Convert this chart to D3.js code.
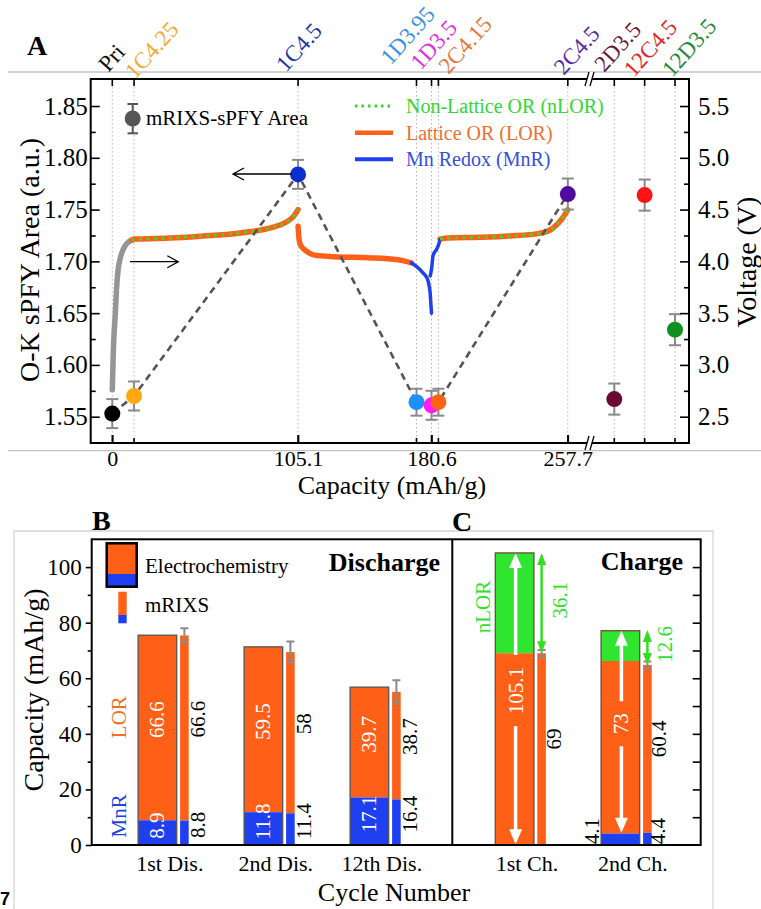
<!DOCTYPE html>
<html lang="en">
<head>
<meta charset="UTF-8">
<title>O-K sPFY area and capacity decomposition</title>
<script src="https://d3js.org/d3.v7.min.js"></script>
<style>
  body { margin: 0; background: #fff; }
  svg { display: block; font-family: "Liberation Serif", "Times New Roman", serif; }
</style>
</head>
<body>
<svg width="761" height="909"></svg>
<script>
// ---------- data: panel A ----------
const sampleNames    = ["Pri", "1C4.25", "1C4.5", "1D3.95", "1D3.5", "2C4.15", "2C4.5", "2D3.5", "12C4.5", "12D3.5"];
const sampleCapacity = [0, 12.3, 105.1, 172.1, 180.6, 184.5, 257.7, null, null, null];
const sampleArea     = [1.553, 1.570, 1.784, 1.564, 1.561, 1.564, 1.765, 1.567, 1.764, 1.634];
const sampleAreaErr  = [0.014, 0.014, 0.014, 0.013, 0.014, 0.013, 0.015, 0.015, 0.015, 0.015];
const capTickLabels  = [0, 105.1, 180.6, 257.7];

// voltage profiles, [capacity mAh/g, voltage V]
const charge1Start = [[0, 2.76], [0.3, 2.95], [0.56, 3.12], [1.0, 3.3], [1.53, 3.44], [2.49, 3.76], [3.3, 3.92],
  [4.35, 4.02], [5.8, 4.1], [7.2, 4.15], [9, 4.185], [11, 4.205]];
const charge1OR = [[11, 4.205], [12.8, 4.215], [20, 4.218], [32.6, 4.225], [51.4, 4.245], [70.3, 4.27],
  [79.7, 4.29], [91, 4.33], [98.5, 4.38], [102.3, 4.43], [105.1, 4.5]];
const discharge1LOR = [[105.1, 4.34], [105.5, 4.24], [106.0, 4.18], [107.2, 4.14], [108.9, 4.11], [111.5, 4.08],
  [114.5, 4.06], [125.8, 4.045], [144.6, 4.035], [161.6, 4.015], [166, 4.0], [169.2, 3.985]];
const discharge1MnR = [[169.2, 3.985], [171, 3.965], [173.5, 3.93], [175.7, 3.89], [177.5, 3.855], [178.5, 3.82],
  [179.3, 3.76], [179.8, 3.7], [180.2, 3.6], [180.6, 3.5]];
const charge2MnR = [[179.9, 3.86], [180.8, 3.95], [181.4, 4.05], [182.4, 4.09], [183.6, 4.12], [184.6, 4.16], [185.4, 4.21]];
const charge2OR = [[185.4, 4.215], [190, 4.225], [207.7, 4.232], [225, 4.245], [241.6, 4.27], [249.2, 4.32],
  [254.8, 4.42], [257.7, 4.5]];

// ---------- data: panels B and C ----------
const dischargeCats = ["1st Dis.", "2nd Dis.", "12th Dis."];
const disEchemMnR = [8.9, 11.8, 17.1];
const disEchemLOR = [66.6, 59.5, 39.7];
const disRixsMnR  = [8.8, 11.4, 16.4];
const disRixsLOR  = [66.6, 58, 38.7];
const disRixsErr  = [2.6, 3.8, 4.2];

const chargeCats = ["1st Ch.", "2nd Ch."];
const chEchemMnR  = [0, 4.1];
const chEchemLOR  = [69, 62.1];
const chEchemNLOR = [36.1, 10.9];
const chEchemOR   = [105.1, 73];
const chRixsMnR   = [0, 4.4];
const chRixsLOR   = [69, 60.4];
const chRixsNLOR  = [36.1, 12.6];
const chRixsErr   = [1.2, 1.2];

// ---------- colours ----------
const pointColor = ["#000000", "#ffa812", "#0c2fcc", "#1e90ff", "#ff1cff", "#ff6414", "#4f0aa0", "#6b0a30", "#ff1414", "#10901e"];
const labelColor = ["#111111", "#efaa35", "#2335a5", "#3b8fe0", "#e02ee0", "#e2783a", "#5a2aa0", "#6a1a40", "#e32626", "#26883a"];
const cOrange = "#ff6018", cBlue = "#1f40f0", cGreen = "#2fe52f", cGray = "#959595";

const svg = d3.select("svg");

function vtext(g, x, y, str, color, size, weight) {
  return g.append("text")
    .attr("transform", `translate(${x},${y}) rotate(-90)`)
    .attr("text-anchor", "middle")
    .attr("dominant-baseline", "central")
    .attr("fill", color)
    .attr("font-size", size)
    .attr("font-weight", weight || "normal")
    .text(str);
}

function styleAxis(g, size) {
  g.attr("font-family", null).attr("font-size", size);
  g.select(".domain").remove();
  g.selectAll(".tick line").attr("stroke", "#000").attr("stroke-width", 1.6);
  g.selectAll(".tick text").attr("fill", "#000");
}

// vertical arrow from y1 to y2 with filled head(s)
function vArrow(g, x, y1, y2, color, lw, hw, hl, both) {
  const dir = y2 > y1 ? 1 : -1;
  g.append("line").attr("x1", x).attr("x2", x)
    .attr("y1", both ? y1 + dir * hl * 0.8 : y1).attr("y2", y2 - dir * hl * 0.8)
    .attr("stroke", color).attr("stroke-width", lw);
  const head = (yt, d) => g.append("path")
    .attr("d", `M${x},${yt} L${x - hw / 2},${yt - d * hl} L${x + hw / 2},${yt - d * hl} Z`)
    .attr("fill", color);
  head(y2, dir);
  if (both) head(y1, -dir);
}

// ================= Panel A =================
const A = {left: 90.7, right: 689, top: 79, bottom: 443, brk: 589};
const xCap = d3.scaleLinear().domain([-12.22, 269.7]).range([A.left, A.brk]);
const xPost = d3.scalePoint().domain(["2D3.5", "12C4.5", "12D3.5"]).range([614.3, 675]);
const yArea = d3.scaleLinear().domain([1.5246, 1.8761]).range([A.bottom, A.top]);
const yVolt = d3.scaleLinear().domain([2.246, 5.761]).range([A.bottom, A.top]);
const posX = i => sampleCapacity[i] !== null ? xCap(sampleCapacity[i]) : xPost(sampleNames[i]);

// light rules framing the panel
[72, 450.7].forEach(y => svg.append("line").attr("x1", 8).attr("x2", 761).attr("y1", y).attr("y2", y)
  .attr("stroke", "#c4c4c4").attr("stroke-width", 1.3));

svg.append("text").attr("x", 27).attr("y", 55).attr("font-size", 28).attr("font-weight", "bold").text("A");

const gA = svg.append("g");

// dotted guides at each sample
gA.selectAll(".guide").data(sampleNames).join("line")
  .attr("x1", (d, i) => posX(i)).attr("x2", (d, i) => posX(i))
  .attr("y1", A.top).attr("y2", A.bottom)
  .attr("stroke", "#b8b8b8").attr("stroke-width", 1).attr("stroke-dasharray", "1.5,2.5");

// top sample labels
const labelShift = [[-4, 73], [1, 80], [-12, 73], [-26, 66], [-11, 71], [10, 75], [-4, 76], [-10, 73], [-11, 78], [-3, 78]];
svg.selectAll(".toplab").data(sampleNames).join("text")
  .attr("transform", (d, i) => `translate(${posX(i) + labelShift[i][0]},${labelShift[i][1]}) rotate(-48)`)
  .attr("font-size", 23).attr("fill", (d, i) => labelColor[i]).text(d => d);

// voltage profiles
const vLine = d3.line().x(d => xCap(d[0])).y(d => yVolt(d[1])).curve(d3.curveMonotoneX);
gA.append("path").attr("d", vLine(charge1Start)).attr("fill", "none").attr("stroke", cGray).attr("stroke-width", 5.5).attr("stroke-linecap", "round");
[charge1OR, charge2OR, discharge1LOR].forEach(c =>
  gA.append("path").attr("d", vLine(c)).attr("fill", "none").attr("stroke", cOrange).attr("stroke-width", 5.5).attr("stroke-linecap", "round"));
[discharge1MnR, charge2MnR].forEach(c =>
  gA.append("path").attr("d", vLine(c)).attr("fill", "none").attr("stroke", cBlue).attr("stroke-width", 3.5).attr("stroke-linecap", "round"));
[charge1OR, charge2OR].forEach(c =>
  gA.append("path").attr("d", vLine(c)).attr("fill", "none").attr("stroke", "#4fd02a").attr("stroke-width", 3).attr("stroke-dasharray", "3,4.5"));

// dashed connector through the first cycles
const linked = d3.range(0, 7);
gA.append("path")
  .attr("d", d3.line().x(i => posX(i)).y(i => yArea(sampleArea[i]))(linked))
  .attr("fill", "none").attr("stroke", "#555").attr("stroke-width", 2.6).attr("stroke-dasharray", "7,5");

// error bars then points
const eb = gA.selectAll(".eb").data(sampleNames).join("g").attr("stroke", "#8a8a8a").attr("stroke-width", 2);
eb.append("line").attr("x1", (d, i) => posX(i)).attr("x2", (d, i) => posX(i))
  .attr("y1", (d, i) => yArea(sampleArea[i] - sampleAreaErr[i])).attr("y2", (d, i) => yArea(sampleArea[i] + sampleAreaErr[i]));
[-1, 1].forEach(s => eb.append("line")
  .attr("x1", (d, i) => posX(i) - 6).attr("x2", (d, i) => posX(i) + 6)
  .attr("y1", (d, i) => yArea(sampleArea[i] + s * sampleAreaErr[i])).attr("y2", (d, i) => yArea(sampleArea[i] + s * sampleAreaErr[i])));
gA.selectAll(".pt").data(sampleNames).join("circle")
  .attr("cx", (d, i) => posX(i)).attr("cy", (d, i) => yArea(sampleArea[i]))
  .attr("r", 8).attr("fill", (d, i) => pointColor[i]);

// frame
gA.append("rect").attr("x", A.left).attr("y", A.top).attr("width", A.right - A.left).attr("height", A.bottom - A.top)
  .attr("fill", "none").attr("stroke", "#000").attr("stroke-width", 2);

// axes
const aL = gA.append("g").attr("transform", `translate(${A.left},0)`)
  .call(d3.axisLeft(yArea).tickValues(d3.range(1.55, 1.851, 0.05)).tickFormat(d3.format(".2f")).tickSize(-9).tickPadding(3));
styleAxis(aL, 25);
const aLm = gA.append("g").attr("transform", `translate(${A.left},0)`)
  .call(d3.axisLeft(yArea).tickValues(d3.range(1.575, 1.83, 0.05)).tickFormat("").tickSize(-5));
styleAxis(aLm, 10);
const aR = gA.append("g").attr("transform", `translate(${A.right},0)`)
  .call(d3.axisRight(yVolt).tickValues(d3.range(2.5, 5.51, 0.5)).tickFormat(d3.format(".1f")).tickSize(-9).tickPadding(9));
styleAxis(aR, 25);
const aRm = gA.append("g").attr("transform", `translate(${A.right},0)`)
  .call(d3.axisRight(yVolt).tickValues(d3.range(2.75, 5.3, 0.5)).tickFormat("").tickSize(-5));
styleAxis(aRm, 10);
const aB = gA.append("g").attr("transform", `translate(0,${A.bottom})`)
  .call(d3.axisBottom(xCap).tickValues(capTickLabels).tickFormat(d => d).tickSize(-8).tickPadding(7));
styleAxis(aB, 22);
// sample ticks on bottom and top edges
gA.selectAll(".tb").data(sampleNames).join("line")
  .attr("x1", (d, i) => posX(i)).attr("x2", (d, i) => posX(i))
  .attr("y1", A.bottom).attr("y2", (d, i) => A.bottom - (capTickLabels.includes(sampleCapacity[i]) ? 8 : 5))
  .attr("stroke", "#000").attr("stroke-width", 1.6);
gA.selectAll(".tt").data(sampleNames).join("line")
  .attr("x1", (d, i) => posX(i)).attr("x2", (d, i) => posX(i))
  .attr("y1", A.top).attr("y2", A.top + 7)
  .attr("stroke", "#000").attr("stroke-width", 1.6);

// axis break marks
[A.bottom, A.top].forEach(y => {
  const x = A.brk;
  gA.append("path").attr("d", `M${x - 4},${y + 7} L${x},${y - 7} L${x + 5},${y - 7} L${x + 1},${y + 7} Z`).attr("fill", "#fff");
  [[-4, 0], [1, 5]].forEach(o => gA.append("line")
    .attr("x1", x + o[0]).attr("y1", y + 7).attr("x2", x + o[1]).attr("y2", y - 7)
    .attr("stroke", "#000").attr("stroke-width", 1.3));
});

// axis titles
svg.append("text").attr("x", 392).attr("y", 494).attr("text-anchor", "middle").attr("font-size", 26).text("Capacity (mAh/g)");
svg.append("text").attr("transform", "translate(39,260) rotate(-90)").attr("text-anchor", "middle").attr("font-size", 28).text("O-K sPFY Area (a.u.)");
svg.append("text").attr("transform", "translate(756,262) rotate(-90)").attr("text-anchor", "middle").attr("font-size", 28).text("Voltage (V)");

// direction arrows
function hArrow(x1, x2, y) {
  const d = x2 > x1 ? 1 : -1;
  gA.append("path").attr("d", `M${x1},${y} L${x2},${y} M${x2 - d * 11},${y - 6} L${x2},${y} L${x2 - d * 11},${y + 6}`)
    .attr("fill", "none").attr("stroke", "#000").attr("stroke-width", 1.3);
}
hArrow(291.7, 233, 174);
hArrow(130, 178.3, 261.7);

// legends
const lg1 = gA.append("g").attr("stroke", "#555").attr("stroke-width", 2);
lg1.append("line").attr("x1", 132.7).attr("x2", 132.7).attr("y1", 104).attr("y2", 133.3);
lg1.append("line").attr("x1", 127.5).attr("x2", 138).attr("y1", 104).attr("y2", 104);
lg1.append("line").attr("x1", 127.5).attr("x2", 138).attr("y1", 133.3).attr("y2", 133.3);
gA.append("circle").attr("cx", 132.7).attr("cy", 118.5).attr("r", 8).attr("fill", "#555");
gA.append("text").attr("x", 146).attr("y", 125).attr("font-size", 21).text("mRIXS-sPFY Area");

const legendItems = [
  {text: "Non-Lattice OR (nLOR)", color: "#33d633", y: 106, dash: "2.5,4", w: 3},
  {text: "Lattice OR (LOR)", color: "#ee7030", y: 132.7, dash: null, w: 4.5},
  {text: "Mn Redox (MnR)", color: "#3450dc", y: 159.3, dash: null, w: 4}
];
const lineColor = ["#33d633", cOrange, cBlue];
legendItems.forEach((d, i) => {
  gA.append("line").attr("x1", 355).attr("x2", 393).attr("y1", d.y).attr("y2", d.y)
    .attr("stroke", lineColor[i]).attr("stroke-width", d.w).attr("stroke-dasharray", d.dash);
  gA.append("text").attr("x", 406).attr("y", d.y + 6.8).attr("font-size", 20).attr("fill", d.color).text(d.text);
});

// ================= Panels B and C =================
const P = {left: 91.7, mid: 452.3, right: 700.7, top: 539.3, bottom: 845};
const yCap = d3.scaleLinear().domain([0, 110]).range([P.bottom, P.top]);
const xDis = d3.scalePoint().domain(dischargeCats).range([163.3, 375.3]);
const xCh = d3.scalePoint().domain(chargeCats).range([520.5, 626.3]);
const wideL = -25.2, wideW = 38.6, narL = 16.8, narW = 8.6;

// light box around lower panels
svg.append("path").attr("d", "M14,909 L14,531 L713,531 L713,909").attr("fill", "none").attr("stroke", "#d4d4d4").attr("stroke-width", 1.3);
svg.append("text").attr("x", 92).attr("y", 529.5).attr("font-size", 28).attr("font-weight", "bold").text("B");
svg.append("text").attr("x", 452).attr("y", 530.7).attr("font-size", 28).attr("font-weight", "bold").text("C");

const gB = svg.append("g");

// discharge bars
dischargeCats.forEach((cat, i) => {
  const c = xDis(cat);
  const eTop = disEchemMnR[i] + disEchemLOR[i];
  const rTop = disRixsMnR[i] + disRixsLOR[i];
  // electrochemistry
  gB.append("rect").attr("x", c + wideL).attr("width", wideW).attr("y", yCap(eTop)).attr("height", yCap(disEchemMnR[i]) - yCap(eTop)).attr("fill", cOrange);
  gB.append("rect").attr("x", c + wideL).attr("width", wideW).attr("y", yCap(disEchemMnR[i])).attr("height", yCap(0) - yCap(disEchemMnR[i])).attr("fill", cBlue);
  gB.append("rect").attr("x", c + wideL).attr("width", wideW).attr("y", yCap(eTop)).attr("height", yCap(0) - yCap(eTop))
    .attr("fill", "none").attr("stroke", "#555").attr("stroke-width", 1.3);
  // mRIXS
  gB.append("rect").attr("x", c + narL).attr("width", narW).attr("y", yCap(rTop)).attr("height", yCap(disRixsMnR[i]) - yCap(rTop)).attr("fill", cOrange);
  gB.append("rect").attr("x", c + narL).attr("width", narW).attr("y", yCap(disRixsMnR[i])).attr("height", yCap(0) - yCap(disRixsMnR[i])).attr("fill", cBlue);
  const nc = c + narL + narW / 2;
  gB.append("path").attr("d", `M${nc - 4},${yCap(rTop + disRixsErr[i])} h8 M${nc},${yCap(rTop + disRixsErr[i])} V${yCap(rTop - disRixsErr[i])} M${nc - 4},${yCap(rTop - disRixsErr[i])} h8`)
    .attr("stroke", "#8a8a8a").attr("stroke-width", 2).attr("fill", "none");
  // values
  const wc = c + wideL + wideW / 2;
  vtext(gB, wc, (yCap(disEchemMnR[i]) + yCap(eTop)) / 2 - 8, disEchemLOR[i], "#fff", 21);
  vtext(gB, wc, (yCap(0) + yCap(disEchemMnR[i])) / 2 - 7, disEchemMnR[i], "#fff", 21);
  vtext(gB, nc + 13.3, (yCap(disRixsMnR[i]) + yCap(rTop)) / 2 - 9, disRixsLOR[i], "#000", 21);
  vtext(gB, nc + 13.3, (yCap(0) + yCap(disRixsMnR[i])) / 2 - 8, disRixsMnR[i], "#000", 21);
});

// charge bars
chargeCats.forEach((cat, i) => {
  const c = xCh(cat);
  const eLOR = chEchemMnR[i] + chEchemLOR[i];
  const eTop = eLOR + chEchemNLOR[i];
  const rLOR = chRixsMnR[i] + chRixsLOR[i];
  const rTop = rLOR + chRixsNLOR[i];
  const x0 = c + wideL;
  gB.append("rect").attr("x", x0).attr("width", wideW).attr("y", yCap(eTop)).attr("height", yCap(eLOR) - yCap(eTop)).attr("fill", cGreen);
  gB.append("rect").attr("x", x0).attr("width", wideW).attr("y", yCap(eLOR)).attr("height", yCap(chEchemMnR[i]) - yCap(eLOR)).attr("fill", cOrange);
  gB.append("rect").attr("x", x0).attr("width", wideW).attr("y", yCap(chEchemMnR[i])).attr("height", yCap(0) - yCap(chEchemMnR[i])).attr("fill", cBlue);
  gB.append("rect").attr("x", x0).attr("width", wideW).attr("y", yCap(eTop)).attr("height", yCap(0) - yCap(eTop))
    .attr("fill", "none").attr("stroke", "#6e4a3a").attr("stroke-width", 1.3);
  gB.append("rect").attr("x", c + narL).attr("width", narW).attr("y", yCap(rLOR)).attr("height", yCap(chRixsMnR[i]) - yCap(rLOR)).attr("fill", cOrange);
  gB.append("rect").attr("x", c + narL).attr("width", narW).attr("y", yCap(chRixsMnR[i])).attr("height", yCap(0) - yCap(chRixsMnR[i])).attr("fill", cBlue);
  const nc = c + narL + narW / 2;
  gB.append("path").attr("d", `M${nc - 4},${yCap(rLOR + chRixsErr[i])} h8 M${nc},${yCap(rLOR + chRixsErr[i])} V${yCap(rLOR - chRixsErr[i])} M${nc - 4},${yCap(rLOR - chRixsErr[i])} h8`)
    .attr("stroke", "#8a8a8a").attr("stroke-width", 2).attr("fill", "none");

  // white double arrow for the oxygen-redox capacity
  const wc = x0 + wideW / 2 + 1;
  const yLo = yCap(chEchemMnR[i] + 0.3), yHi = yCap(eTop);
  const lc = (yLo + yHi) / 2 - 8;
  const lab = vtext(gB, wc, lc, chEchemOR[i], "#fff", 21);
  const half = lab.node().getComputedTextLength() / 2 + 12;
  vArrow(gB, wc, lc - half, yHi, "#fff", 3.5, 13, 15, false);
  vArrow(gB, wc, lc + half, yLo, "#fff", 3.5, 13, 15, false);

  // green arrow for nLOR on mRIXS bar
  vArrow(gB, nc, yCap(rLOR), yCap(rTop), "#33dd22", 2.5, 9, 12, true);
  vtext(gB, nc + 18, (yCap(rLOR) + yCap(rTop)) / 2 - 3, chRixsNLOR[i], "#2ee02e", 21);
  vtext(gB, nc + 12, (yCap(chRixsMnR[i]) + yCap(rLOR)) / 2 - 10, chRixsLOR[i], "#000", 21);
  if (chRixsMnR[i] > 0) {
    vtext(gB, nc + 11, yCap(0) - 14, chRixsMnR[i], "#000", 21);
    vtext(gB, x0 - 9.3, yCap(0) - 14, chEchemMnR[i], "#000", 21);
  }
});

// frame and divider
gB.append("rect").attr("x", P.left).attr("y", P.top).attr("width", P.right - P.left).attr("height", P.bottom - P.top)
  .attr("fill", "none").attr("stroke", "#000").attr("stroke-width", 2);
gB.append("line").attr("x1", P.mid).attr("x2", P.mid).attr("y1", P.top).attr("y2", P.bottom).attr("stroke", "#000").attr("stroke-width", 2);

// axes
const bL = gB.append("g").attr("transform", `translate(${P.left},0)`)
  .call(d3.axisLeft(yCap).tickValues(d3.range(0, 101, 20)).tickSize(6).tickPadding(4));
styleAxis(bL, 23);
const bLm = gB.append("g").attr("transform", `translate(${P.left},0)`)
  .call(d3.axisLeft(yCap).tickValues(d3.range(10, 100, 20)).tickFormat("").tickSize(4));
styleAxis(bLm, 10);
const cR = gB.append("g").attr("transform", `translate(${P.right},0)`)
  .call(d3.axisRight(yCap).tickValues(d3.range(10, 101, 10)).tickFormat("").tickSize(-8));
styleAxis(cR, 10);

// category labels
dischargeCats.forEach(cat => gB.append("text").attr("x", xDis(cat) + 6.5).attr("y", 871).attr("text-anchor", "middle").attr("font-size", 22).text(cat));
chargeCats.forEach(cat => gB.append("text").attr("x", xCh(cat) + 6.5).attr("y", 871).attr("text-anchor", "middle").attr("font-size", 22).text(cat));

// titles
gB.append("text").attr("x", 394).attr("y", 901).attr("text-anchor", "middle").attr("font-size", 26).text("Cycle Number");
gB.append("text").attr("transform", "translate(43,690) rotate(-90)").attr("text-anchor", "middle").attr("font-size", 28).text("Capacity (mAh/g)");
gB.append("text").attr("x", 440).attr("y", 570.7).attr("text-anchor", "end").attr("font-size", 26).attr("font-weight", "bold").text("Discharge");
gB.append("text").attr("x", 683).attr("y", 570).attr("text-anchor", "end").attr("font-size", 26).attr("font-weight", "bold").text("Charge");

// side labels
vtext(gB, 119, yCap(46), "LOR", "#f07020", 21);
vtext(gB, 119, yCap(10.5), "MnR", "#2040e0", 21);
vtext(gB, 483, 607, "nLOR", "#2ee02e", 21);

// legend
gB.append("rect").attr("x", 106.7).attr("y", 543.3).attr("width", 30).attr("height", 30.7).attr("fill", cOrange);
gB.append("rect").attr("x", 106.7).attr("y", 574).attr("width", 30).attr("height", 12.7).attr("fill", cBlue);
gB.append("rect").attr("x", 106.7).attr("y", 543.3).attr("width", 30).attr("height", 43.4).attr("fill", "none").attr("stroke", "#000").attr("stroke-width", 2.5);
gB.append("text").attr("x", 145).attr("y", 573).attr("font-size", 21).text("Electrochemistry");
gB.append("rect").attr("x", 118.3).attr("y", 591.7).attr("width", 8.4).attr("height", 23.3).attr("fill", cOrange);
gB.append("rect").attr("x", 118.3).attr("y", 615).attr("width", 8.4).attr("height", 8.3).attr("fill", cBlue);
gB.append("text").attr("x", 145).attr("y", 612).attr("font-size", 21).text("mRIXS");

// page number fragment at the corner
svg.append("text").attr("x", 0).attr("y", 905).attr("font-family", "Liberation Sans, Arial, sans-serif").attr("font-weight", "bold").attr("font-size", 18).text("7");
</script>
</body>
</html>
